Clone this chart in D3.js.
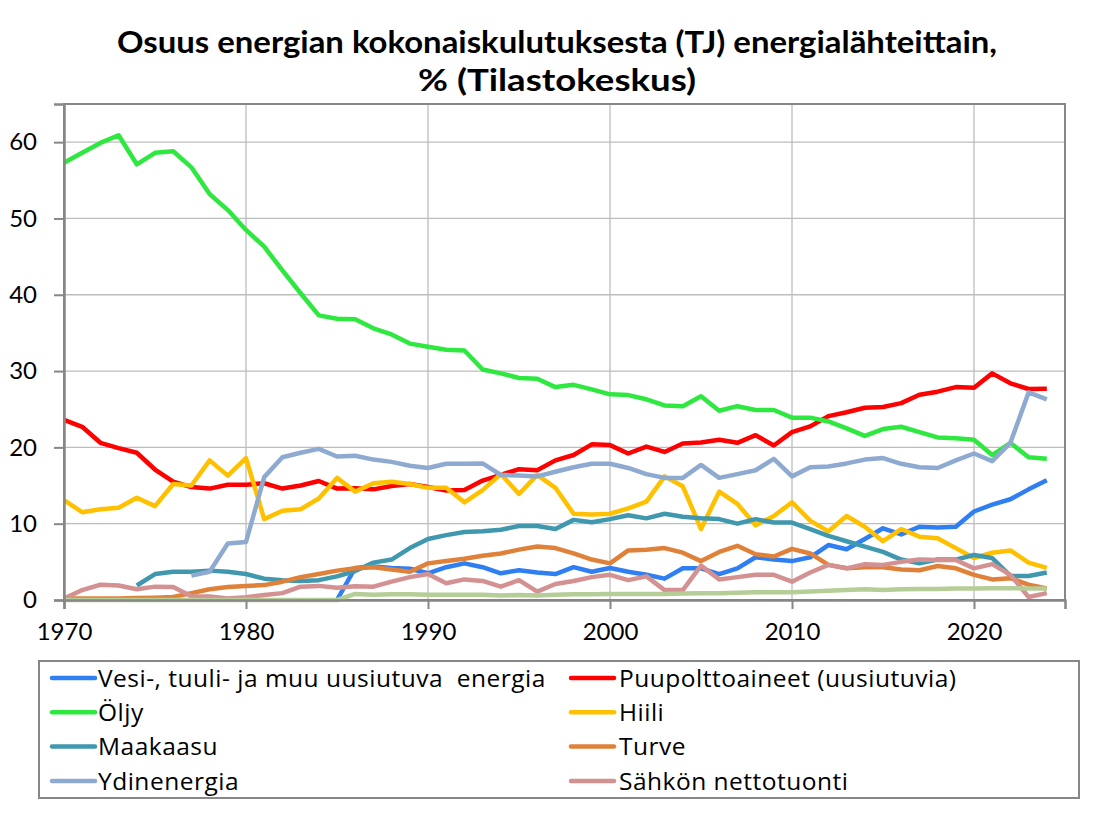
<!DOCTYPE html>
<html>
<head>
<meta charset="utf-8">
<script src="https://cdn.jsdelivr.net/npm/d3@7"></script>
<style>
  body { margin: 0; background: #fff; }
  svg { display: block; }
  text { font-family: Lato, "Open Sans", sans-serif; fill: #000; }
  .legend-label { font-family: "Open Sans", Lato, sans-serif; white-space: pre; letter-spacing: 0.5px; }
</style>
</head>
<body>
<div id="container"></div>
<script>
const years = d3.range(1970, 2025);

// osuudet % vuosittain 1970-2024, null = ei tietoa
const vesiTuuli = [null,null,null,null,null,null,null,null,null,null,
  null,null,null,null,null,0,4.2,4.4,4.2,4.1,
  3.5,4.3,4.8,4.3,3.5,3.9,3.6,3.4,4.3,3.7,
  4.2,3.7,3.3,2.8,4.15,4.15,3.4,4.15,5.6,5.3,
  5.1,5.6,7.2,6.65,8.0,9.4,8.6,9.6,9.5,9.6,
  11.6,12.5,13.2,14.5,15.7];
const puu = [23.6,22.7,20.6,19.9,19.3,17.1,15.5,14.8,14.6,15.1,
  15.1,15.3,14.6,15.0,15.6,14.6,14.65,14.5,14.95,15.2,
  14.8,14.35,14.4,15.65,16.4,17.15,17.0,18.3,19.0,20.4,
  20.3,19.2,20.1,19.4,20.5,20.65,21.0,20.6,21.6,20.25,
  22.0,22.75,24.1,24.6,25.2,25.3,25.8,26.9,27.3,27.9,
  27.8,29.7,28.4,27.65,27.7];
const oljy = [57.3,58.6,59.9,60.9,57.1,58.6,58.8,56.7,53.2,51.1,
  48.5,46.3,43.2,40.2,37.3,36.85,36.8,35.6,34.8,33.6,
  33.2,32.8,32.7,30.2,29.7,29.1,29.0,27.9,28.2,27.6,
  26.95,26.85,26.3,25.5,25.4,26.7,24.8,25.4,24.9,24.9,
  23.9,23.9,23.4,22.5,21.5,22.4,22.7,22.0,21.3,21.2,
  21.0,19.0,20.6,18.7,18.5];
const hiili = [13.1,11.5,11.9,12.1,13.4,12.3,15.2,15.0,18.3,16.3,
  18.6,10.6,11.7,11.9,13.3,16.0,14.2,15.3,15.5,15.2,
  14.7,14.7,12.8,14.4,16.5,13.9,16.4,14.7,11.3,11.2,
  11.3,12.0,12.9,16.2,14.9,9.3,14.2,12.6,9.8,11.0,
  12.8,10.4,9.0,11.0,9.6,7.7,9.3,8.3,8.1,6.8,
  5.5,6.2,6.5,4.9,4.2];
const maakaasu = [null,null,null,null,1.9,3.4,3.7,3.7,3.85,3.7,
  3.4,2.8,2.6,2.5,2.6,3.1,3.8,4.9,5.3,6.8,
  8.0,8.5,8.9,9.0,9.2,9.7,9.7,9.3,10.5,10.2,
  10.6,11.1,10.7,11.3,10.9,10.7,10.6,10.0,10.6,10.15,
  10.15,9.3,8.4,7.7,7.0,6.3,5.3,4.8,5.3,5.3,
  5.9,5.5,3.15,3.15,3.6];
const turve = [0.2,0.2,0.2,0.2,0.25,0.3,0.4,0.9,1.4,1.7,
  1.85,1.95,2.4,3.0,3.4,3.85,4.15,4.3,4.0,3.7,
  4.8,5.1,5.4,5.8,6.1,6.6,7.0,6.8,6.1,5.3,
  4.8,6.5,6.6,6.8,6.2,5.1,6.3,7.1,6.0,5.7,
  6.7,6.1,4.6,4.15,4.3,4.3,4.0,3.9,4.45,4.15,
  3.3,2.7,2.85,2.0,1.5];
const ydin = [null,null,null,null,null,null,null,3.2,3.7,7.4,
  7.6,16.1,18.7,19.3,19.8,18.8,18.9,18.4,18.1,17.6,
  17.3,17.85,17.85,17.9,16.4,16.3,16.2,16.8,17.4,17.85,
  17.85,17.3,16.5,16.0,16.0,17.7,16.0,16.5,17.0,18.5,
  16.2,17.4,17.5,17.9,18.4,18.6,17.85,17.4,17.3,18.3,
  19.2,18.2,20.6,27.2,26.3];
const sahko = [0.2,1.3,2.0,1.9,1.4,1.75,1.7,0.5,0.45,0.2,
  0.35,0.65,0.9,1.75,1.85,1.6,1.8,1.75,2.4,3.0,
  3.4,2.2,2.7,2.5,1.75,2.6,1.1,2.1,2.5,3.0,
  3.3,2.6,3.1,1.3,1.3,4.5,2.7,3.0,3.3,3.3,
  2.4,3.6,4.6,4.15,4.7,4.6,5.0,5.3,5.25,5.25,
  4.15,4.7,3.3,0.4,0.9];
const muut = [0,0,0,0,0,0,0,0,0,0,
  0,0,0,0,0,0,0.8,0.7,0.75,0.75,
  0.7,0.7,0.7,0.7,0.6,0.65,0.6,0.7,0.75,0.75,
  0.8,0.8,0.8,0.8,0.85,0.9,0.9,0.95,1.0,1.0,
  1.0,1.1,1.2,1.3,1.4,1.3,1.4,1.45,1.45,1.5,
  1.5,1.55,1.55,1.5,1.5];

const seriesNames = ['Vesi-, tuuli- ja muu uusiutuva  energia', 'Puupolttoaineet (uusiutuvia)',
  'Öljy', 'Hiili', 'Maakaasu', 'Turve', 'Ydinenergia', 'Sähkön nettotuonti', 'Muut'];
const seriesValues = [vesiTuuli, puu, oljy, hiili, maakaasu, turve, ydin, sahko, muut];
const colors = ['#2f7ff2', '#ff0000', '#2ee840', '#ffc000', '#4098ae', '#e0813a', '#8eaad0', '#d49191', '#b5cd96'];
const xTicks = [1970, 1980, 1990, 2000, 2010, 2020];
const yTicks = [0, 10, 20, 30, 40, 50, 60];
const titleLines = ['Osuus energian kokonaiskulutuksesta (TJ) energialähteittain,', '% (Tilastokeskus)'];

const width = 1114;
const height = 827;
const margin = { left: 64, right: 49, top: 104, bottom: 227 };

const svg = d3.select('#container').append('svg')
  .attr('width', width)
  .attr('height', height);

const xScale = d3.scaleLinear()
  .domain([1970, 2025])
  .range([margin.left, width - margin.right]);

const yScale = d3.scaleLinear()
  .domain([0, 65])
  .range([height - margin.bottom, margin.top]);

// title (Calibri-like width forced with textLength)
const titleWidths = [880, 278];
svg.append('g').selectAll('text')
  .data(titleLines)
  .enter()
  .append('text')
  .attr('x', 557)
  .attr('y', (d, i) => 53 + i * 38)
  .attr('text-anchor', 'middle')
  .attr('font-size', 30)
  .attr('font-weight', 'bold')
  .attr('textLength', (d, i) => titleWidths[i])
  .attr('lengthAdjust', 'spacingAndGlyphs')
  .text(d => d);

// gridlines
svg.append('g')
  .selectAll('line')
  .data(yTicks.filter(d => d > 0))
  .enter()
  .append('line')
  .attr('x1', xScale(1970))
  .attr('x2', xScale(2025))
  .attr('y1', d => yScale(d))
  .attr('y2', d => yScale(d))
  .attr('stroke', '#bdbdbd')
  .attr('stroke-width', 1.3);

svg.append('g')
  .selectAll('line')
  .data(xTicks.filter(d => d > 1970))
  .enter()
  .append('line')
  .attr('x1', d => xScale(d))
  .attr('x2', d => xScale(d))
  .attr('y1', yScale(0))
  .attr('y2', yScale(65))
  .attr('stroke', '#bdbdbd')
  .attr('stroke-width', 1.3);

// plot frame
svg.append('rect')
  .attr('x', xScale(1970))
  .attr('y', yScale(65))
  .attr('width', xScale(2025) - xScale(1970))
  .attr('height', yScale(0) - yScale(65))
  .attr('fill', 'none')
  .attr('stroke', '#878787')
  .attr('stroke-width', 2);

// lines
const line = d3.line()
  .defined(d => d.v != null)
  .x(d => xScale(d.year))
  .y(d => yScale(d.v));

svg.append('g')
  .selectAll('path')
  .data(seriesValues)
  .enter()
  .append('path')
  .attr('fill', 'none')
  .attr('stroke', (d, i) => colors[i])
  .attr('stroke-width', 4.5)
  .attr('stroke-linejoin', 'round')
  .attr('d', vals => line(vals.map((v, i) => ({ year: years[i], v: v }))));

// axes
const xAxis = d3.axisBottom(xScale)
  .tickValues(xTicks)
  .tickFormat(d3.format('d'))
  .tickSize(9)
  .tickPadding(14);
const yAxis = d3.axisLeft(yScale)
  .tickValues(yTicks)
  .tickSize(10)
  .tickPadding(17);

const gx = svg.append('g')
  .attr('id', 'x-axis')
  .attr('transform', `translate(0, ${yScale(0)})`)
  .call(xAxis);
const gy = svg.append('g')
  .attr('id', 'y-axis')
  .attr('transform', `translate(${xScale(1970)}, 0)`)
  .call(yAxis);

[gx, gy].forEach(g => {
  g.select('.domain').attr('stroke', '#878787').attr('stroke-width', 2.5);
  g.selectAll('.tick line').attr('stroke', '#878787').attr('stroke-width', 2);
  g.selectAll('.tick text').attr('font-size', 24).attr('fill', '#000');
});

// legend
const legendX = 39, legendY = 661;
svg.append('rect')
  .attr('x', legendX)
  .attr('y', legendY)
  .attr('width', 1040)
  .attr('height', 137)
  .attr('fill', '#fff')
  .attr('stroke', '#878787')
  .attr('stroke-width', 2);

const legendItems = svg.append('g')
  .selectAll('g')
  .data(seriesNames.slice(0, 8))
  .enter()
  .append('g')
  .attr('transform', (d, i) => `translate(${i % 2 ? 571 : 52}, ${678 + Math.floor(i / 2) * 34.3})`);

legendItems.append('line')
  .attr('x1', 0)
  .attr('x2', 43)
  .attr('stroke', (d, i) => colors[i])
  .attr('stroke-width', 4.5)
  .attr('stroke-linecap', 'round');

legendItems.append('text')
  .attr('class', 'legend-label')
  .attr('x', (d, i) => i % 2 ? 48 : 46)
  .attr('dy', '0.36em')
  .attr('font-size', 24.5)
  .text(d => d);
</script>
</body>
</html>
